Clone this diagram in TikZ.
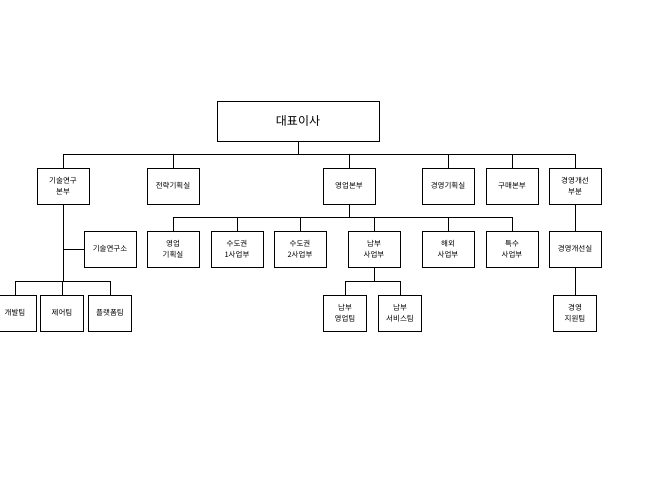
\documentclass[tikz,border=0pt]{standalone}
\usepackage{fontspec}
\newfontfamily\krfont{Noto Sans CJK KR}
\begin{document}
\begin{tikzpicture}[x=1pt, y=-1pt, line width=1pt,
  unit/.style={draw, fill=white, minimum width=52pt, minimum height=36pt, inner sep=1pt,
    align=center, font=\krfont\fontsize{7.5}{11}\selectfont},
  team/.style={unit, minimum width=43pt}]
  \useasboundingbox (0,0) rectangle (658,483);
  \node[unit, minimum width=162pt, minimum height=40pt, font=\krfont\fontsize{12}{14}\selectfont]
    (ceo) at (298,121) {대표이사};
  % first level
  \node[unit] (tech) at (63,186) {기술연구\\본부};
  \node[unit] (strat) at (173,186) {전략기획실};
  \node[unit] (sales) at (349,186) {영업본부};
  \node[unit] (mgmt) at (448,186) {경영기획실};
  \node[unit] (buy) at (512,186) {구매본부};
  \node[unit] (impr) at (575,186) {경영개선\\부분};
  % second level
  \node[unit] (lab) at (110,249) {기술연구소};
  \node[unit] (splan) at (173,249) {영업\\기획실};
  \node[unit] (cap1) at (237,249) {수도권\\1사업부};
  \node[unit] (cap2) at (300,249) {수도권\\2사업부};
  \node[unit] (south) at (374,249) {남부\\사업부};
  \node[unit] (abroad) at (448,249) {해외\\사업부};
  \node[unit] (spec) at (512,249) {특수\\사업부};
  \node[unit] (imprlab) at (575,249) {경영개선실};
  % third level
  \node[team] (dev) at (15,313) {개발팀};
  \node[team] (ctrl) at (62,313) {제어팀};
  \node[team] (plat) at (110,313) {플랫폼팀};
  \node[team] (ssales) at (345,313) {남부\\영업팀};
  \node[team] (sserv) at (400,313) {남부\\서비스팀};
  \node[team] (supp) at (575,313) {경영\\지원팀};

  \draw (ceo.south) -- (298,154);
  \foreach \n in {tech,strat,sales,mgmt,buy,impr}
    \draw (\n.north) -- (\n.north |- 0,154);
  \draw (tech.north |- 0,154) -- (impr.north |- 0,154);

  \draw (sales.south) -- (349,217);
  \foreach \n in {splan,cap1,cap2,south,abroad,spec}
    \draw (\n.north) -- (\n.north |- 0,217);
  \draw (splan.north |- 0,217) -- (spec.north |- 0,217);

  \draw (tech.south) -- (63,281);
  \draw (63,249) -- (lab.west);
  \foreach \n in {dev,ctrl,plat}
    \draw (\n.north) -- (\n.north |- 0,281);
  \draw (dev.north |- 0,281) -- (plat.north |- 0,281);

  \draw (south.south) -- (374,281);
  \foreach \n in {ssales,sserv}
    \draw (\n.north) -- (\n.north |- 0,281);
  \draw (ssales.north |- 0,281) -- (sserv.north |- 0,281);

  \draw (impr.south) -- (imprlab.north);
  \draw (imprlab.south) -- (supp.north);
\end{tikzpicture}
\end{document}
